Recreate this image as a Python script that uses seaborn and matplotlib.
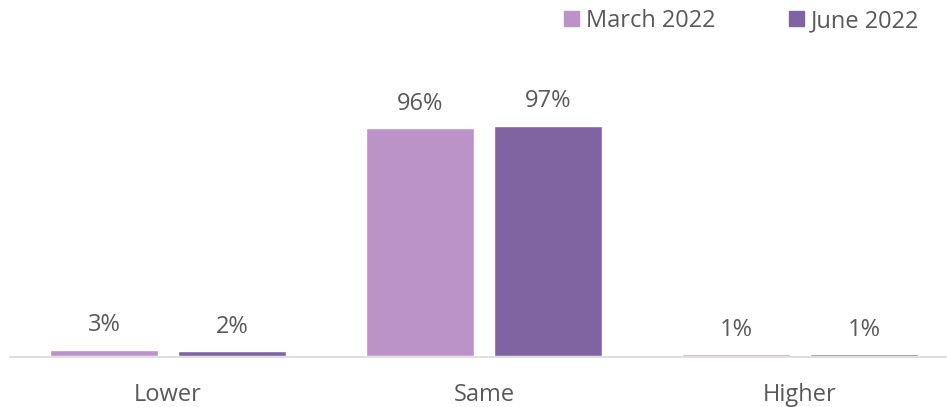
import pandas as pd
import seaborn as sns
import matplotlib.pyplot as plt

# Chart data
categories = ['Lower', 'Same', 'Higher']
series = ['March 2022', 'June 2022']
march_2022 = [2.6, 96.0, 0.7]
june_2022 = [2.0, 97.0, 0.7]
colors = ['#BB93C9', '#8064A2']

df = pd.DataFrame({
    'Response': categories * 2,
    'Period': [series[0]] * 3 + [series[1]] * 3,
    'Share': march_2022 + june_2022,
})

sns.set_style('white')
plt.rcParams['font.family'] = ['Open Sans', 'DejaVu Sans']
text_color = '#595959'
fs = 17

W, H = 947, 407
fig = plt.figure(figsize=(W / 100, H / 100), dpi=100)
# axes: x from 10 to 958 px, y zero at 356 px from top
ax = fig.add_axes([10 / W, (H - 357) / H, 948 / W, 262 / H])

sns.barplot(
    data=df, x='Response', y='Share', hue='Period',
    order=categories, hue_order=series, palette=colors,
    width=0.81, gap=0.163, saturation=1, ax=ax, legend=False,
)

ax.set_xlim(-0.5, 2.5)
ax.set_ylim(-0.4, 110)
for c in ax.containers:
    ax.bar_label(c, labels=[f'{v:.0f}%' for v in c.datavalues],
                 padding=9, fontsize=fs, color=text_color)

ax.set_xlabel('')
ax.set_ylabel('')
ax.set_yticks([])
ax.tick_params(axis='x', length=0, pad=19, labelsize=fs, labelcolor=text_color)
for s in ['top', 'right', 'left']:
    ax.spines[s].set_visible(False)
ax.spines['bottom'].set_color('#D9D9D9')
ax.spines['bottom'].set_linewidth(1.2)

# legend
handles = [plt.Rectangle((0, 0), 1, 1, color=c) for c in colors]
fig.legend(handles, series, loc='center left', bbox_to_anchor=(564 / W, 1 - 21 / H),
           ncol=2, frameon=False, fontsize=fs, labelcolor=text_color,
           handlelength=0.64, handleheight=0.6, handletextpad=0.3,
           columnspacing=3.1, borderaxespad=0, borderpad=0)

fig.savefig('out.png', dpi=100)
